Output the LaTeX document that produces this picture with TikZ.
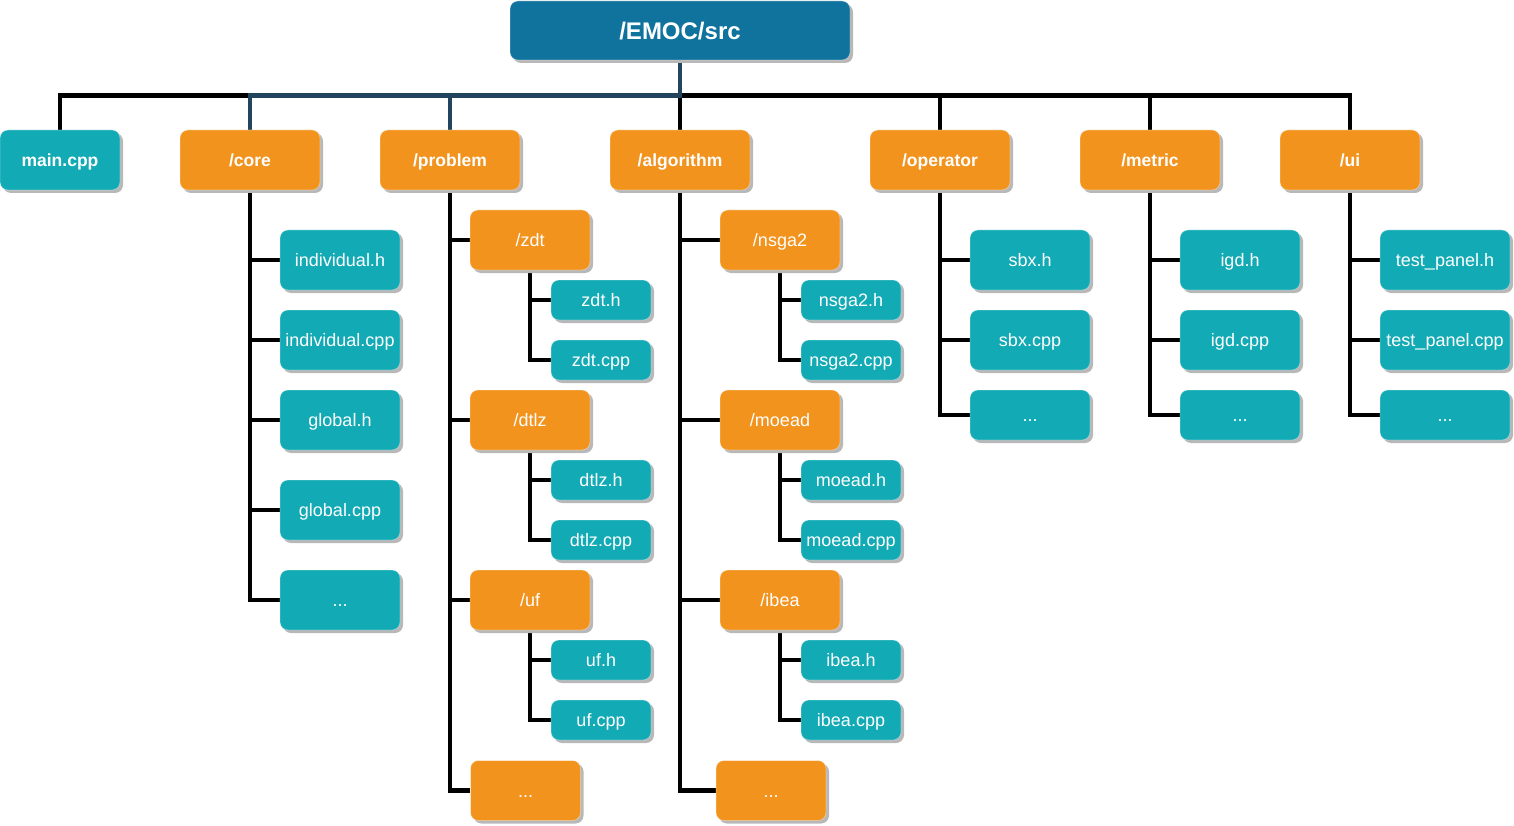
\documentclass[tikz,border=0pt]{standalone}
\usepackage{fontspec}
\setmainfont{Liberation Sans}
\usetikzlibrary{shadows}
\definecolor{rootblue}{HTML}{10739E}
\definecolor{dirorange}{HTML}{F2931E}
\definecolor{fileteal}{HTML}{12AAB5}
\definecolor{darkedge}{HTML}{23445D}
\pgfdeclarelayer{edges}
\pgfsetlayers{edges,main}
\tikzset{
  box/.style={rectangle, rounded corners=8pt, inner sep=0pt, text=white,
    draw=white, draw opacity=0.35, line width=0.8pt,
    font=\fontsize{18}{21}\selectfont, text height=13pt, text depth=0pt,
    drop shadow={shadow xshift=3pt, shadow yshift=-3pt, fill=black!28, opacity=1}},
  rootbox/.style={box, fill=rootblue, minimum width=340pt, minimum height=59pt,
    font=\bfseries\fontsize{24}{28}\selectfont, text height=17.5pt},
  topdir/.style={box, fill=dirorange, minimum width=140pt, minimum height=60pt,
    font=\bfseries\fontsize{17.5}{21}\selectfont, text height=12.8pt},
  topfile/.style={box, fill=fileteal, minimum width=120pt, minimum height=60pt,
    font=\bfseries\fontsize{17.5}{21}\selectfont, text height=12.8pt},
  subdir/.style={box, fill=dirorange, minimum width=120pt, minimum height=60pt},
  filebox/.style={box, fill=fileteal, minimum width=120pt, minimum height=60pt},
  smallfile/.style={box, fill=fileteal, minimum width=100pt, minimum height=40pt},
  conn/.style={line width=4.3pt, black},
  conndark/.style={line width=4.3pt, darkedge},
}
\begin{document}
\begin{tikzpicture}[x=1pt, y=-1pt]
\useasboundingbox (0,0) rectangle (1514,826);
% root
\node[rootbox] (root) at (680,30.5) {/EMOC/src};
% level 1
\node[topfile] (mainc) at (60,160) {main.cpp};
\node[topdir] (core) at (250,160) {/core};
\node[topdir] (problem) at (450,160) {/problem};
\node[topdir] (algo) at (680,160) {/algorithm};
\node[topdir] (oper) at (940,160) {/operator};
\node[topdir] (metric) at (1150,160) {/metric};
\node[topdir] (ui) at (1350,160) {/ui};
% core
\node[filebox] (indh) at (340,260) {individual.h};
\node[filebox] (indc) at (340,340) {individual.cpp};
\node[filebox] (globh) at (340,420) {global.h};
\node[filebox] (globc) at (340,510) {global.cpp};
\node[filebox] (cdots) at (340,600) {...};
% problem
\node[subdir] (zdt) at (530,240) {/zdt};
\node[smallfile] (zdth) at (601,300) {zdt.h};
\node[smallfile] (zdtc) at (601,360) {zdt.cpp};
\node[subdir] (dtlz) at (530,420) {/dtlz};
\node[smallfile] (dtlzh) at (601,480) {dtlz.h};
\node[smallfile] (dtlzc) at (601,540) {dtlz.cpp};
\node[subdir] (uf) at (530,600) {/uf};
\node[smallfile] (ufh) at (601,660) {uf.h};
\node[smallfile] (ufc) at (601,720) {uf.cpp};
\node[subdir, minimum width=110pt] (pdots) at (525.5,790.5) {...};
% algorithm
\node[subdir] (nsga) at (780,240) {/nsga2};
\node[smallfile] (nsgah) at (851,300) {nsga2.h};
\node[smallfile] (nsgac) at (851,360) {nsga2.cpp};
\node[subdir] (moead) at (780,420) {/moead};
\node[smallfile] (moeadh) at (851,480) {moead.h};
\node[smallfile] (moeadc) at (851,540) {moead.cpp};
\node[subdir] (ibea) at (780,600) {/ibea};
\node[smallfile] (ibeah) at (851,660) {ibea.h};
\node[smallfile] (ibeac) at (851,720) {ibea.cpp};
\node[subdir, minimum width=110pt] (adots) at (771,790.5) {...};
% operator
\node[filebox] (sbxh) at (1030,260) {sbx.h};
\node[filebox] (sbxc) at (1030,340) {sbx.cpp};
\node[filebox, minimum height=50pt] (odots) at (1030,415) {...};
% metric
\node[filebox] (igdh) at (1240,260) {igd.h};
\node[filebox] (igdc) at (1240,340) {igd.cpp};
\node[filebox, minimum height=50pt] (mdots) at (1240,415) {...};
% ui
\node[filebox, minimum width=130pt] (tph) at (1445,260) {test\_panel.h};
\node[filebox, minimum width=130pt] (tpc) at (1445,340) {test\_panel.cpp};
\node[filebox, minimum width=130pt, minimum height=50pt] (udots) at (1445,415) {...};

\begin{pgfonlayer}{edges}
% top bus
\foreach \t in {mainc,algo,oper,metric,ui}
  \draw[conn] (root.south) -- ++(0,35) -| (\t.north);
\foreach \t in {core,problem}
  \draw[conndark] (root.south) -- ++(0,35) -| (\t.north);
% core
\foreach \t in {indh,indc,globh,globc,cdots}
  \draw[conn] (core.south) |- (\t.west);
% problem
\foreach \t in {zdt,dtlz,uf,pdots}
  \draw[conn] (problem.south) |- (\t.west);
\foreach \t in {zdth,zdtc} \draw[conn] (zdt.south) |- (\t.west);
\foreach \t in {dtlzh,dtlzc} \draw[conn] (dtlz.south) |- (\t.west);
\foreach \t in {ufh,ufc} \draw[conn] (uf.south) |- (\t.west);
% algorithm
\foreach \t in {nsga,moead,ibea,adots}
  \draw[conn] (algo.south) |- (\t.west);
\foreach \t in {nsgah,nsgac} \draw[conn] (nsga.south) |- (\t.west);
\foreach \t in {moeadh,moeadc} \draw[conn] (moead.south) |- (\t.west);
\foreach \t in {ibeah,ibeac} \draw[conn] (ibea.south) |- (\t.west);
% operator, metric, ui
\foreach \t in {sbxh,sbxc,odots} \draw[conn] (oper.south) |- (\t.west);
\foreach \t in {igdh,igdc,mdots} \draw[conn] (metric.south) |- (\t.west);
\foreach \t in {tph,tpc,udots} \draw[conn] (ui.south) |- (\t.west);
\end{pgfonlayer}
\end{tikzpicture}
\end{document}
